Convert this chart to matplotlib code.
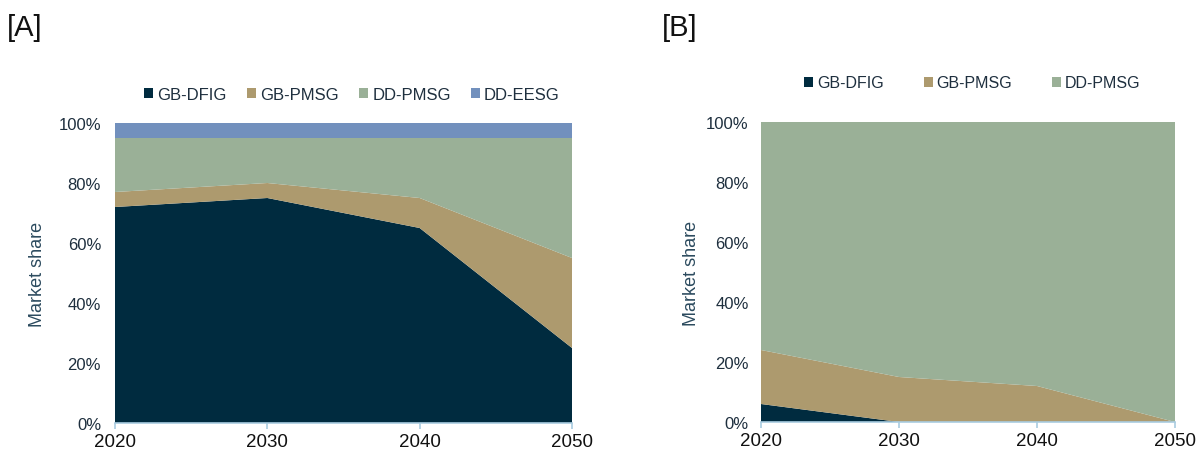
import matplotlib
matplotlib.use('agg')
from matplotlib import pyplot as plt
from matplotlib.patches import Patch
from matplotlib.ticker import PercentFormatter

years = [2020, 2030, 2040, 2050]

# scenario A shares (%)
a_gb_dfig = [72, 75, 65, 25]
a_gb_pmsg = [5, 5, 10, 30]
a_dd_pmsg = [18, 15, 20, 40]
a_dd_eesg = [5, 5, 5, 5]

# scenario B shares (%)
b_gb_dfig = [6, 0, 0, 0]
b_gb_pmsg = [18, 15, 12, 0]
b_dd_pmsg = [76, 85, 88, 100]

labels_a = ['GB-DFIG', 'GB-PMSG', 'DD-PMSG', 'DD-EESG']
labels_b = ['GB-DFIG', 'GB-PMSG', 'DD-PMSG']

COLORS = ['#002B3F', '#AD9A6E', '#9AB097', '#7290BD']
AXIS_COLOR = '#A9CCE0'
TEXT_COLOR = '#1E2F3E'
LABEL_COLOR = '#2B4A5E'

plt.rcParams['font.family'] = ['Liberation Sans', 'DejaVu Sans']

fig = plt.figure(figsize=(11.99, 4.52), dpi=100)
W, H = 1199, 452


def panel(rect, series, labels, tag, tag_x, leg_y, leg_x0, leg_x1, leg_size, col_space,
          ypad=10, ylabelpad=9):
    l, t, r, b = rect
    ax = fig.add_axes([l / W, 1 - b / H, (r - l) / W, (b - t) / H])
    ax.stackplot(years, *series, colors=COLORS[:len(series)], linewidth=0)
    ax.set_xlim(2020, 2050)
    ax.set_ylim(0, 100)
    ax.set_xticks(years)
    ax.set_yticks(range(0, 101, 20))
    ax.yaxis.set_major_formatter(PercentFormatter(decimals=0))
    for side in ('top', 'right', 'left'):
        ax.spines[side].set_visible(False)
    ax.spines['bottom'].set_color(AXIS_COLOR)
    ax.spines['bottom'].set_linewidth(1.2)
    ax.tick_params(axis='x', colors=AXIS_COLOR, length=4, width=1.2,
                   labelcolor='#111111', labelsize=13.5, pad=3)
    ax.tick_params(axis='y', length=0, labelcolor=TEXT_COLOR, labelsize=12, pad=ypad)
    ax.set_ylabel('Market share', color=LABEL_COLOR, fontsize=13, labelpad=ylabelpad)

    fig.text(tag_x / W, 1 - 28 / H, tag, fontsize=21, color='#111111', va='center')

    handles = [Patch(facecolor=c, edgecolor='none') for c in COLORS[:len(labels)]]
    leg = fig.legend(handles, labels, ncol=len(labels), frameon=False,
                     loc='center', bbox_to_anchor=((leg_x0 + leg_x1) / 2 / W, 1 - leg_y / H),
                     fontsize=leg_size, handlelength=0.55, handleheight=0.55,
                     handletextpad=0.25, columnspacing=col_space)
    for txt in leg.get_texts():
        txt.set_color(TEXT_COLOR)
    return ax


panel((115, 124, 572, 424), [a_gb_dfig, a_gb_pmsg, a_dd_pmsg, a_dd_eesg],
      labels_a, '[A]', 7, 95, 146, 558, 12, 1.2)
panel((761, 123, 1175, 423), [b_gb_dfig, b_gb_pmsg, b_dd_pmsg],
      labels_b, '[B]', 662, 84, 810, 1135, 11.5, 2.5, ypad=9, ylabelpad=4)

fig.savefig('out.png', dpi=100)
